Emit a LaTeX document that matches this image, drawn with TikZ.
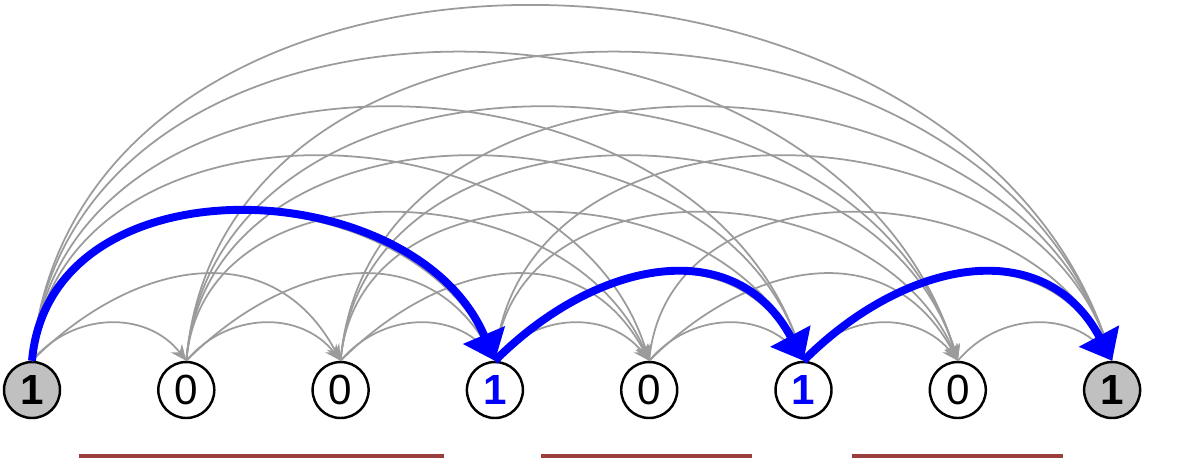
\documentclass[tikz,border=0pt]{standalone}
\usepackage{fontspec}
\setmainfont{Liberation Sans}
\usetikzlibrary{arrows.meta}
\definecolor{arcgray}{RGB}{155,155,155}
\definecolor{nodegray}{RGB}{192,192,192}
\definecolor{pathblue}{RGB}{0,0,255}
\definecolor{barred}{RGB}{155,62,62}
\begin{document}
\begin{tikzpicture}[x=0.2mm,y=0.2mm]
\tikzset{
  bitnode/.style={circle,draw,line width=1.4pt,fill=white,minimum size=1.12cm,inner sep=0pt,
    font=\fontsize{24}{24}\selectfont},
  endnode/.style={bitnode,fill=nodegray,font=\fontsize{24}{24}\selectfont\bfseries},
  hitnode/.style={bitnode,text=pathblue,font=\fontsize{24}{24}\selectfont\bfseries},
  jump/.style={-{Stealth[length=3.2mm,width=2.8mm]},draw=arcgray,line width=1pt},
  bestjump/.style={-{Triangle[length=5.6mm,width=8.8mm]},draw=pathblue,line width=4.5pt},
  hop1/.style={out=50,in=128,looseness=1.07},
  hop2/.style={out=45,in=118,looseness=1.2},
  hop3/.style={out=85,in=113,looseness=1.14},
  hop4/.style={out=85,in=107,looseness=1.16},
  hop5/.style={out=85,in=107,looseness=1.15},
  hop6/.style={out=85,in=107,looseness=1.165},
  hop7/.style={out=85,in=107,looseness=1.15},
  segbar/.style={draw=barred,line width=2.2pt}
}
\useasboundingbox (0,0) rectangle (1177,469);
\node[endnode] (n_0) at (32.0,79) {1};
\node[bitnode] (n_1) at (186.3,79) {0};
\node[bitnode] (n_2) at (340.6,79) {0};
\node[hitnode] (n_3) at (494.9,79) {1};
\node[bitnode] (n_4) at (649.2,79) {0};
\node[hitnode] (n_5) at (803.5,79) {1};
\node[bitnode] (n_6) at (957.8,79) {0};
\node[endnode] (n_7) at (1112.1,79) {1};
% every forward jump
\draw[jump] (n_0.north) to[hop1] (n_1.north);
\draw[jump] (n_0.north) to[hop2] (n_2.north);
\draw[jump] (n_0.north) to[hop3] (n_3.north);
\draw[jump] (n_0.north) to[hop4] (n_4.north);
\draw[jump] (n_0.north) to[hop5] (n_5.north);
\draw[jump] (n_0.north) to[hop6] (n_6.north);
\draw[jump] (n_0.north) to[hop7] (n_7.north);
\draw[jump] (n_1.north) to[hop1] (n_2.north);
\draw[jump] (n_1.north) to[hop2] (n_3.north);
\draw[jump] (n_1.north) to[hop3] (n_4.north);
\draw[jump] (n_1.north) to[hop4] (n_5.north);
\draw[jump] (n_1.north) to[hop5] (n_6.north);
\draw[jump] (n_1.north) to[hop6] (n_7.north);
\draw[jump] (n_2.north) to[hop1] (n_3.north);
\draw[jump] (n_2.north) to[hop2] (n_4.north);
\draw[jump] (n_2.north) to[hop3] (n_5.north);
\draw[jump] (n_2.north) to[hop4] (n_6.north);
\draw[jump] (n_2.north) to[hop5] (n_7.north);
\draw[jump] (n_3.north) to[hop1] (n_4.north);
\draw[jump] (n_3.north) to[hop2] (n_5.north);
\draw[jump] (n_3.north) to[hop3] (n_6.north);
\draw[jump] (n_3.north) to[hop4] (n_7.north);
\draw[jump] (n_4.north) to[hop1] (n_5.north);
\draw[jump] (n_4.north) to[hop2] (n_6.north);
\draw[jump] (n_4.north) to[hop3] (n_7.north);
\draw[jump] (n_5.north) to[hop1] (n_6.north);
\draw[jump] (n_5.north) to[hop2] (n_7.north);
\draw[jump] (n_6.north) to[hop1] (n_7.north);
% chosen jumps
\draw[bestjump] (n_0.north) to[hop3] (n_3.north);
\draw[bestjump] (n_3.north) to[hop2] (n_5.north);
\draw[bestjump] (n_5.north) to[hop2] (n_7.north);
% segments
\draw[segbar] (79,13) -- (444,13);
\draw[segbar] (541,13) -- (752,13);
\draw[segbar] (852,13) -- (1063,13);
\end{tikzpicture}
\end{document}
